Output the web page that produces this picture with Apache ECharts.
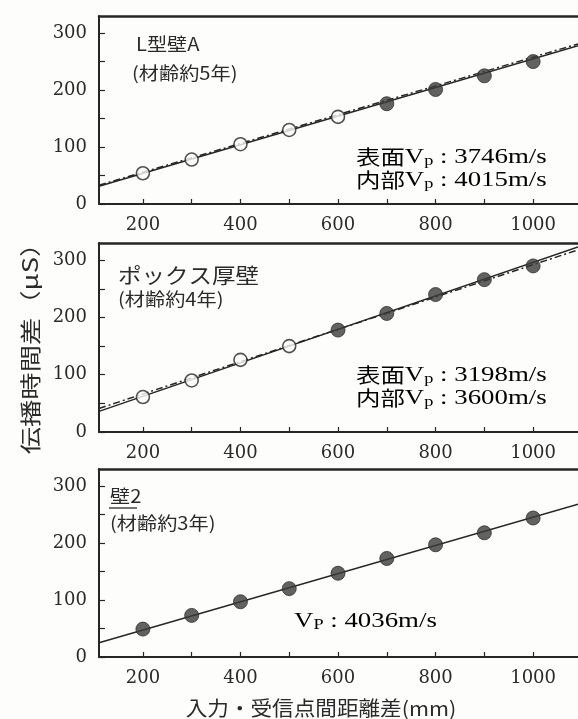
<!DOCTYPE html>
<html>
<head>
<meta charset="utf-8">
<script src="https://cdn.jsdelivr.net/npm/echarts@6/dist/echarts.min.js"></script>
<style>
  html, body { margin: 0; padding: 0; background: #fdfdfb; }
  #chart { width: 578px; height: 719px; }
</style>
</head>
<body>
<div id="chart"></div>
<script>
// Input/receiver point distance difference (mm)
const distances = [200, 300, 400, 500, 600, 700, 800, 900, 1000];

// L型壁A: open = surface readings, filled = interior readings (μs)
const wallA_open   = [54, 78, 105, 130, 153, null, null, null, null];
const wallA_filled = [null, null, null, null, null, 176, 201, 225, 250];
// fitted lines, endpoints [distance, time]
const wallA_surfaceLine  = [[110, 33], [1092, 281]];
const wallA_interiorLine = [[110, 31], [1092, 278]];

// ボックス厚壁
const box_open   = [61, 90, 126, 150, null, null, null, null, null];
const box_filled = [null, null, null, null, 178, 207, 240, 266, 290];
const box_surfaceLine  = [[110, 41], [1092, 318]];
const box_interiorLine = [[110, 36], [1092, 323]];

// 壁2
const wall2_filled = [49, 73, 97, 120, 147, 173, 197, 218, 244];
const wall2_line   = [[110, 25], [1092, 268]];

// axis ticks and labels
const xTickValues  = [200, 300, 400, 500, 600, 700, 800, 900, 1000];
const xLabelValues = [200, 400, 600, 800, 1000];
const yTickValues  = [0, 50, 100, 150, 200, 250, 300];
const yLabelValues = [0, 100, 200, 300];

const SERIF = 'Liberation Serif';
const TICK_FONT = 'DejaVu Serif';
const CJK = 'Noto Sans CJK JP';
const INK = '#262626';
const TEXT = '#2a2a2a';
const WIDE = 1.22; // horizontal stretch of the printed lettering

const pair = (vals) => distances.map((d, i) => vals[i] == null ? null : [d, vals[i]]).filter(Boolean);

const grids = [
  { left: 99, right: 0, top: 16,  height: 188 },
  { left: 99, right: 0, top: 243, height: 189 },
  { left: 99, right: 0, top: 469, height: 188 }
];

const xAxes = [];
const yAxes = [];
grids.forEach((g, i) => {
  xAxes.push({
    gridIndex: i, type: 'value', min: 110, max: 1092, position: 'bottom',
    axisLine: { show: true, onZero: false, lineStyle: { color: INK, width: 2 } },
    axisTick: { show: true, inside: true, length: 5, customValues: xTickValues, lineStyle: { color: INK, width: 1.2 } },
    axisLabel: { show: true, customValues: xLabelValues, margin: 12, fontFamily: TICK_FONT, fontSize: 18, color: TEXT,
                 formatter: (v) => String(v) },
    splitLine: { show: false }
  });
  // top frame edge
  xAxes.push({
    gridIndex: i, type: 'value', min: 110, max: 1092, position: 'top',
    axisLine: { show: true, onZero: false, lineStyle: { color: INK, width: 2.5 } },
    axisTick: { show: false }, axisLabel: { show: false }, splitLine: { show: false }
  });
  yAxes.push({
    gridIndex: i, type: 'value', min: 0, max: 330,
    axisLine: { show: true, onZero: false, lineStyle: { color: INK, width: 2 } },
    axisTick: { show: true, inside: true, length: 6, customValues: yTickValues, lineStyle: { color: INK, width: 1.2 } },
    axisLabel: { show: true, customValues: yLabelValues, margin: 12, fontFamily: TICK_FONT, fontSize: 18, color: TEXT,
                 formatter: (v) => String(v) },
    splitLine: { show: false }
  });
});

function lineSeries(axisIdx, data, dashed) {
  return {
    type: 'line', xAxisIndex: axisIdx * 2, yAxisIndex: axisIdx, data: data,
    symbol: 'none', silent: true, z: 2,
    lineStyle: { color: INK, width: 1.5, type: dashed ? [7, 3, 2, 3] : 'solid' }
  };
}
function openSeries(axisIdx, data) {
  return {
    type: 'scatter', xAxisIndex: axisIdx * 2, yAxisIndex: axisIdx, data: data,
    symbol: 'circle', symbolSize: 13, z: 3,
    itemStyle: { color: '#fdfdfb', borderColor: INK, borderWidth: 1.6 }
  };
}
function filledSeries(axisIdx, data) {
  return {
    type: 'scatter', xAxisIndex: axisIdx * 2, yAxisIndex: axisIdx, data: data,
    symbol: 'circle', symbolSize: 14, z: 3,
    itemStyle: { color: '#3b3b3b', borderColor: '#2e2e2e', borderWidth: 1 }
  };
}

const vpRich = {
  c: { fontFamily: CJK, fontSize: 20, color: TEXT },
  v: { fontFamily: SERIF, fontSize: 22, color: TEXT },
  s: { fontFamily: SERIF, fontSize: 15, color: TEXT, padding: [9, 0, 0, 0] }
};
function vpLabel(x, y, prefix, sub, value) {
  return {
    type: 'text', x: x, y: y, z: 10, scaleX: WIDE,
    style: {
      text: `{c|${prefix}}{v|V}{s|${sub}}{v| : ${value}}`,
      rich: vpRich, verticalAlign: 'middle', align: 'left'
    }
  };
}
function cjkLabel(x, y, text, size) {
  return {
    type: 'text', x: x, y: y, z: 10, scaleX: 1.12,
    style: { text: text, fontFamily: CJK, fontSize: size || 19, fill: TEXT, verticalAlign: 'middle', align: 'left' }
  };
}

const chart = echarts.init(document.getElementById('chart'), null, { renderer: 'canvas' });
chart.setOption({
  backgroundColor: '#fdfdfb',
  animation: false,
  grid: grids,
  xAxis: xAxes,
  yAxis: yAxes,
  series: [
    lineSeries(0, wallA_surfaceLine, true),
    lineSeries(0, wallA_interiorLine, false),
    openSeries(0, pair(wallA_open)),
    filledSeries(0, pair(wallA_filled)),

    lineSeries(1, box_surfaceLine, true),
    lineSeries(1, box_interiorLine, false),
    openSeries(1, pair(box_open)),
    filledSeries(1, pair(box_filled)),

    lineSeries(2, wall2_line, false),
    filledSeries(2, pair(wall2_filled))
  ],
  graphic: [
    cjkLabel(136, 44, 'L型壁A', 18),
    cjkLabel(132, 73, '(材齢約5年)', 18),
    vpLabel(356, 157, '表面', 'p', '3746m/s'),
    vpLabel(356, 180, '内部', 'p', '4015m/s'),

    cjkLabel(118, 275, 'ポックス厚壁', 21),
    cjkLabel(118, 299, '(材齢約4年)', 18),
    vpLabel(356, 375, '表面', 'p', '3198m/s'),
    vpLabel(356, 398, '内部', 'p', '3600m/s'),

    cjkLabel(110, 496, '壁2', 18),
    { type: 'line', z: 10, shape: { x1: 109, y1: 508, x2: 137, y2: 508 }, style: { stroke: TEXT, lineWidth: 1.3 } },
    cjkLabel(110, 523, '(材齢約3年)', 18),
    vpLabel(294, 621, '', 'P', '4036m/s'),

    {
      type: 'text', x: 30, y: 342, rotation: Math.PI / 2, z: 10, scaleX: 1.3,
      style: { text: '伝播時間差（μS）', fontFamily: CJK, fontSize: 21, fill: TEXT, align: 'center', verticalAlign: 'middle' }
    },
    {
      type: 'text', x: 321, y: 708, z: 10, scaleX: 1.08,
      style: { text: '入力・受信点間距離差(mm)', fontFamily: CJK, fontSize: 20, fill: TEXT, align: 'center', verticalAlign: 'middle' }
    }
  ]
});
</script>
</body>
</html>
